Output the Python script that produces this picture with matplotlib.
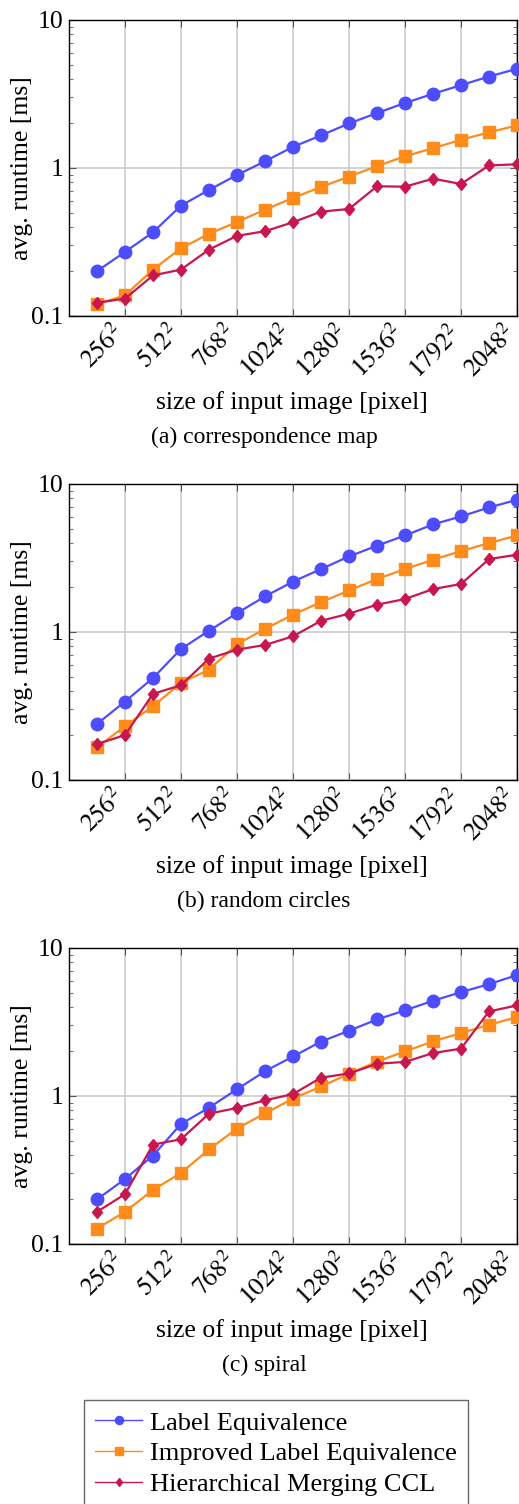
import matplotlib
matplotlib.use("Agg")
import matplotlib.pyplot as plt
from matplotlib.markers import MarkerStyle
from matplotlib.ticker import FixedLocator, LogLocator, NullFormatter
from matplotlib.transforms import Affine2D, ScaledTranslation

plt.rcParams['font.family'] = ['Liberation Serif', 'DejaVu Serif']
plt.rcParams['mathtext.fontset'] = 'stix'

# image side length in pixels
sizes = [128, 256, 384, 512, 640, 768, 896, 1024, 1152, 1280, 1408, 1536, 1664, 1792, 1920, 2048]
tick_sizes = [256, 512, 768, 1024, 1280, 1536, 1792, 2048]
tick_labels = [r'$%d^2$' % s for s in tick_sizes]

series_names = ["Label Equivalence", "Improved Label Equivalence", "Hierarchical Merging CCL"]
captions = ["(a) correspondence map", "(b) random circles", "(c) spiral"]

# (a) correspondence map
corr_le = [0.201, 0.271, 0.368, 0.557, 0.711, 0.897, 1.11, 1.39, 1.66, 2.00, 2.35, 2.75, 3.17, 3.63, 4.15, 4.68]
corr_ile = [0.120, 0.138, 0.206, 0.287, 0.359, 0.432, 0.523, 0.628, 0.744, 0.874, 1.03, 1.20, 1.36, 1.55, 1.74, 1.94]
corr_hm = [0.123, 0.131, 0.188, 0.206, 0.281, 0.348, 0.374, 0.430, 0.507, 0.529, 0.752, 0.748, 0.847, 0.780, 1.04, 1.06]

# (b) random circles
circ_le = [0.239, 0.339, 0.489, 0.768, 1.02, 1.34, 1.74, 2.19, 2.66, 3.24, 3.83, 4.49, 5.33, 6.04, 6.94, 7.82]
circ_ile = [0.166, 0.231, 0.315, 0.453, 0.557, 0.826, 1.05, 1.31, 1.59, 1.91, 2.28, 2.66, 3.08, 3.52, 3.99, 4.49]
circ_hm = [0.175, 0.201, 0.382, 0.437, 0.661, 0.760, 0.817, 0.935, 1.19, 1.33, 1.53, 1.67, 1.95, 2.11, 3.11, 3.33]

# (c) spiral
spir_le = [0.200, 0.275, 0.396, 0.647, 0.834, 1.11, 1.47, 1.85, 2.33, 2.76, 3.29, 3.79, 4.40, 5.03, 5.70, 6.56]
spir_ile = [0.127, 0.165, 0.232, 0.302, 0.436, 0.602, 0.764, 0.959, 1.16, 1.41, 1.71, 2.00, 2.34, 2.66, 3.03, 3.41]
spir_hm = [0.165, 0.217, 0.470, 0.510, 0.760, 0.830, 0.935, 1.03, 1.33, 1.42, 1.65, 1.70, 1.95, 2.09, 3.73, 4.09]

panels = [
    (corr_le, corr_ile, corr_hm),
    (circ_le, circ_ile, circ_hm),
    (spir_le, spir_ile, spir_hm),
]

colors = ['#4d4dff', '#ff8c1a', '#c8174f']
# pgfplots diamonds are taller than wide
diamond = MarkerStyle('D', transform=Affine2D().scale(0.75, 1.0))
markers = ['o', 's', diamond]
msizes = [9.0, 8.5, 6.2]

W, H = 519, 1504
fig = plt.figure(figsize=(W / 100, H / 100), dpi=100)

FS = 18.5
panel_tops = [20, 484, 948]
ax_left, ax_w, ax_h = 69, 448, 296
shift_left = ScaledTranslation(-5 / 100, 1 / 100, fig.dpi_scale_trans)

handles = []
for i, (top, data) in enumerate(zip(panel_tops, panels)):
    ax = fig.add_axes([ax_left / W, 1 - (top + ax_h) / H, ax_w / W, ax_h / H])
    for vals, c, m, ms, name in zip(data, colors, markers, msizes, series_names):
        ln, = ax.plot(sizes, vals, color=c, marker=m, markersize=ms, linewidth=1.6,
                      markeredgecolor=c, label=name, clip_on=False, zorder=3)
        if i == 0:
            handles.append(ln)

    ax.set_yscale('log')
    ax.set_ylim(0.1, 10)
    ax.set_xlim(0, 2048)
    ax.yaxis.set_major_locator(FixedLocator([0.1, 1, 10]))
    ax.set_yticklabels(['0.1', '1', '10'])
    ax.yaxis.set_minor_locator(LogLocator(base=10, subs=range(2, 10)))
    ax.yaxis.set_minor_formatter(NullFormatter())
    ax.set_xticks(tick_sizes)
    ax.set_xticklabels(tick_labels, rotation=45, ha='right', va='center', rotation_mode='anchor')

    ax.grid(True, which='major', color='#c8c8c8', linewidth=1.1)
    ax.tick_params(which='both', direction='in', top=True, right=True, labelsize=FS, colors='#555555',
                   labelcolor='black')
    ax.tick_params(which='major', length=5, width=0.8, pad=4)
    ax.tick_params(which='minor', length=3, width=0.6)
    ax.tick_params(axis='x', pad=10)
    # nudge the rotated labels left, like the pgfplots anchor
    for tick in ax.xaxis.get_major_ticks():
        tick.label1.set_transform(tick.label1.get_transform() + shift_left)
    for sp in ax.spines.values():
        sp.set_linewidth(1.0)
        sp.set_color('black')

    fig.text(22 / W, 1 - (top + ax_h / 2) / H, 'avg. runtime [ms]', fontsize=FS,
             rotation=90, ha='center', va='center')
    fig.text(292 / W, 1 - (top + 383) / H, 'size of input image [pixel]', fontsize=FS,
             ha='center', va='center')
    fig.text(264 / W, 1 - (top + 417) / H, captions[i], fontsize=FS - 1.5,
             ha='center', va='center')

leg = fig.legend(handles=handles, loc='upper center', bbox_to_anchor=(276 / W, 1 - 1400 / H),
                 fontsize=FS + 0.5, frameon=True, fancybox=False, edgecolor='#444444',
                 handlelength=1.8, borderpad=0.42, labelspacing=0.28, handletextpad=0.3,
                 borderaxespad=0, markerscale=0.65)
leg.get_frame().set_linewidth(1.0)
for lh in leg.get_lines():
    lh.set_linewidth(1.0)

fig.savefig('out.png', dpi=100)
